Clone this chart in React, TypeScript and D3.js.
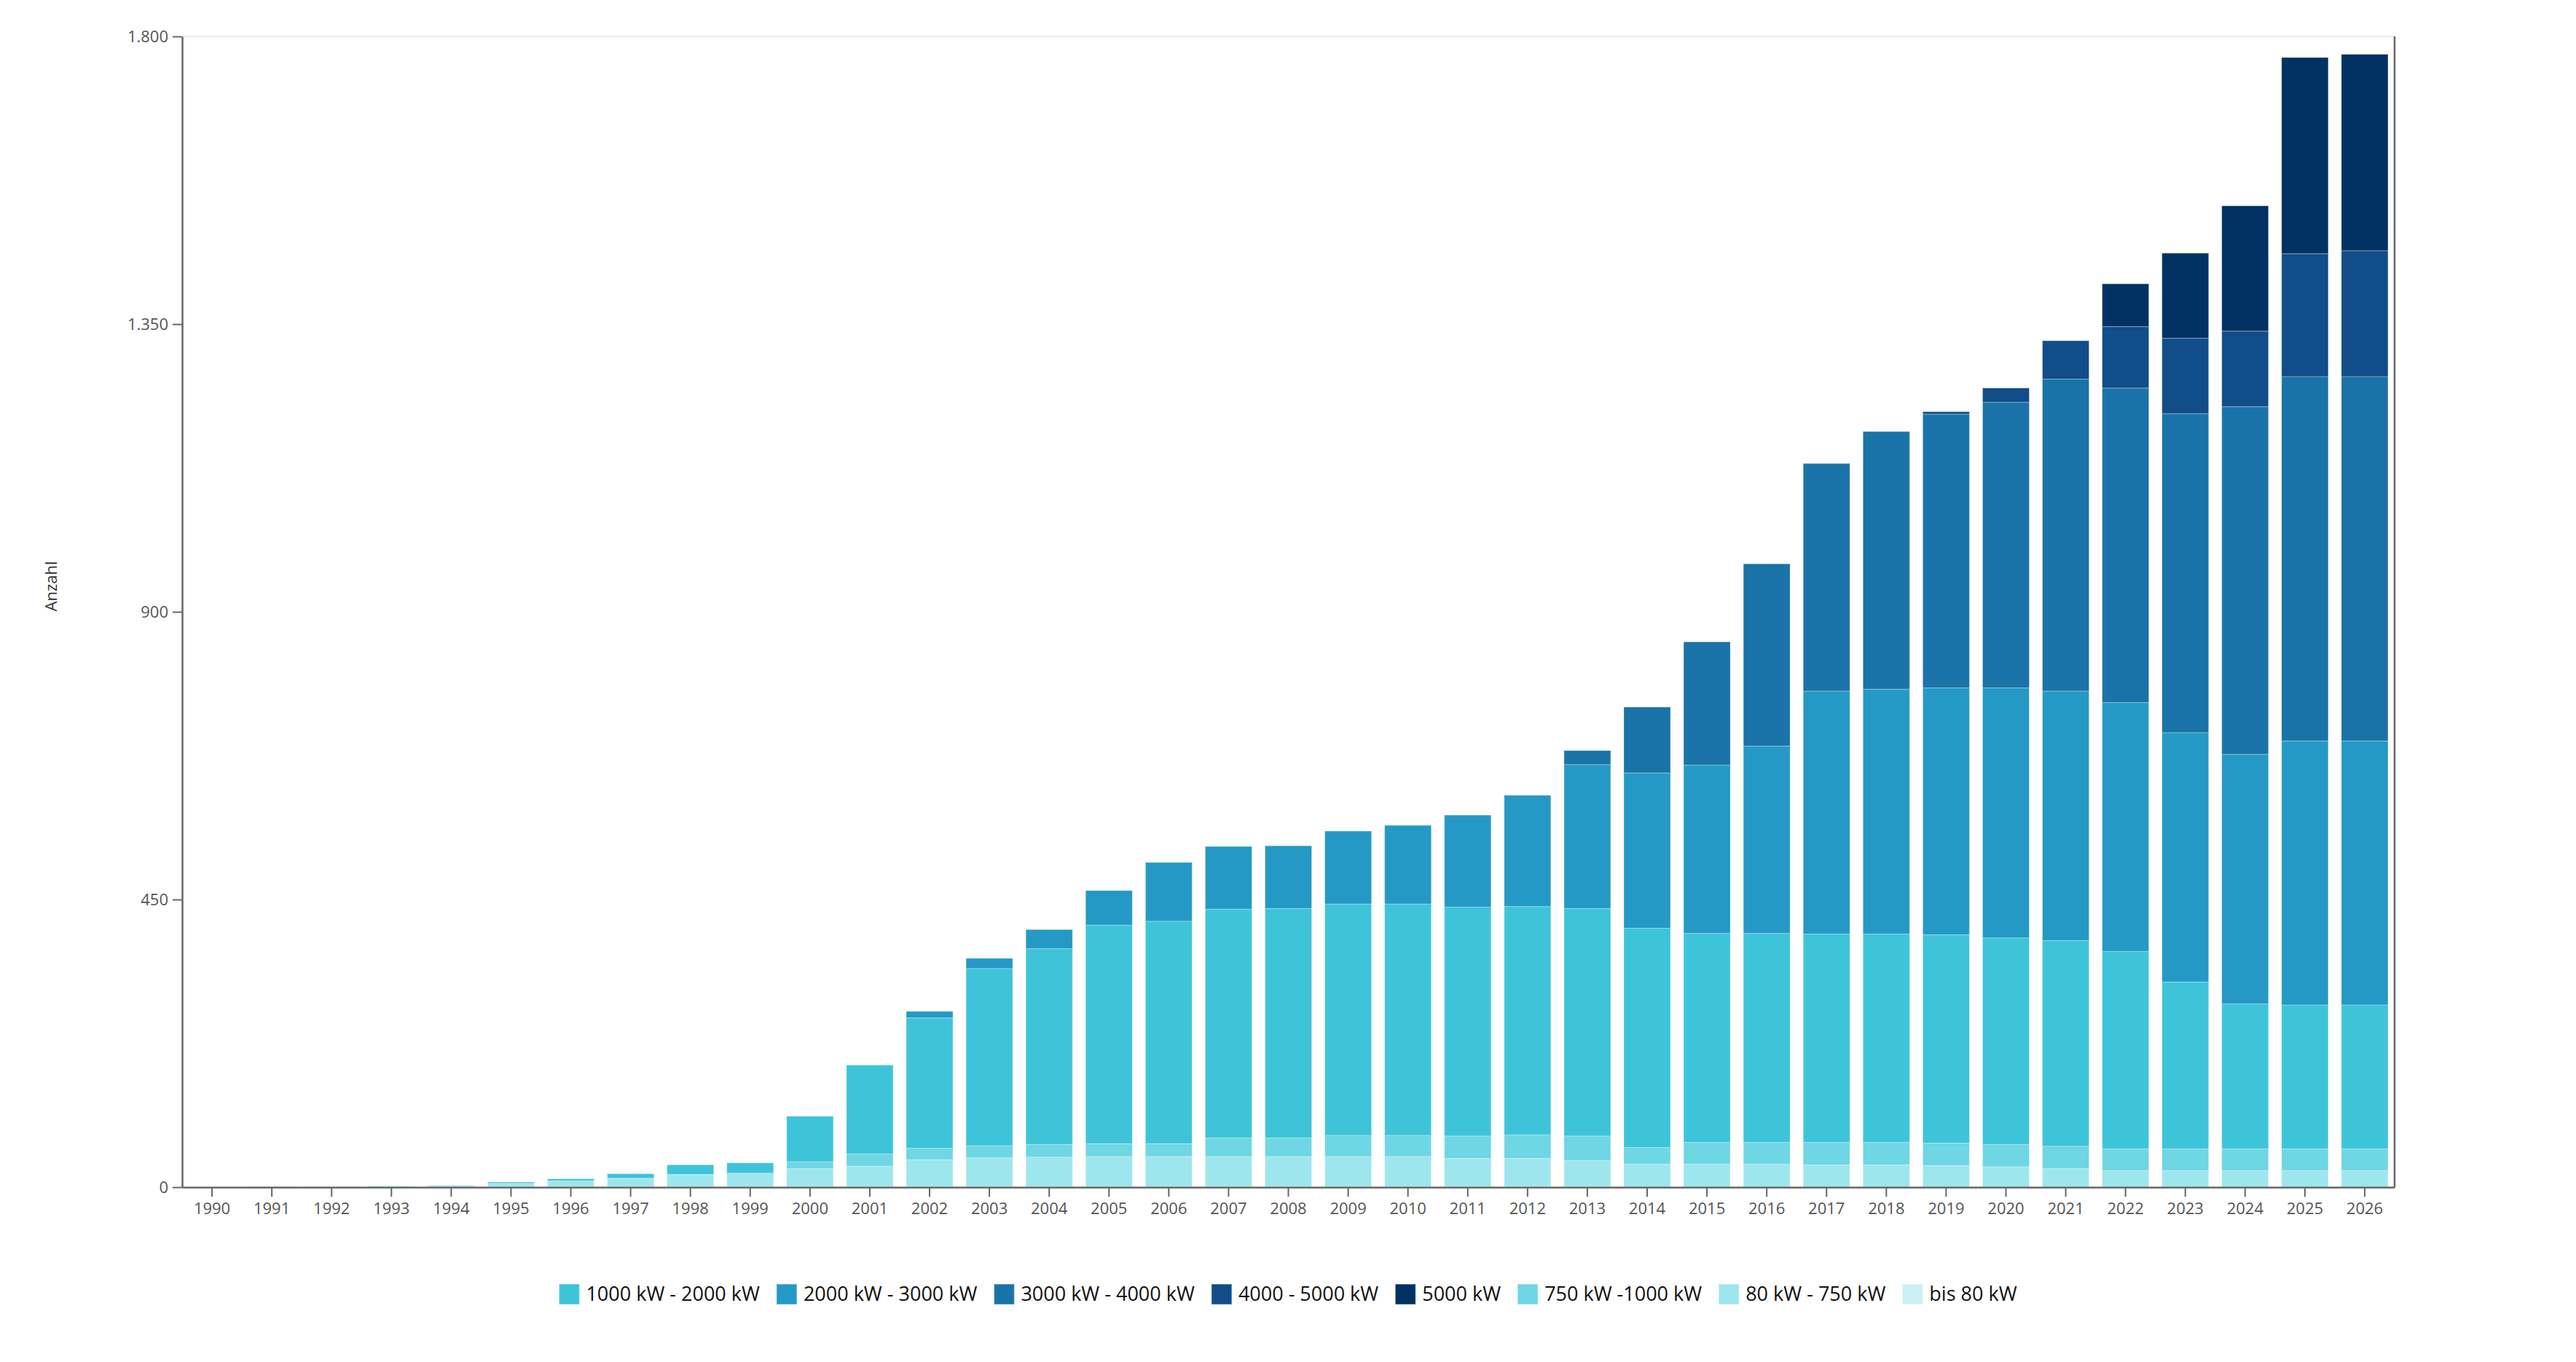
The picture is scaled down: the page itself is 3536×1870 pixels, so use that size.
import React, { useEffect, useRef } from 'react';
import * as d3 from 'd3';

const years = [
  '1990', '1991', '1992', '1993', '1994', '1995', '1996', '1997', '1998', '1999',
  '2000', '2001', '2002', '2003', '2004', '2005', '2006', '2007', '2008', '2009',
  '2010', '2011', '2012', '2013', '2014', '2015', '2016', '2017', '2018', '2019',
  '2020', '2021', '2022', '2023', '2024', '2025', '2026',
];

// Anzahl je Leistungsklasse, 1990 - 2026
const bis80 = [0, 1, 1, 1, 1, 1, 1, 1, 1, 1, 1, 1, 1, 1, 1, 1, 1, 1, 1, 1, 1, 1, 1, 1, 0, 0, 0, 0, 0, 0, 0, 0, 0, 0, 0, 0, 0];
const kw80to750 = [0, 0, 0, 1, 2, 5, 9, 13, 19, 21, 28, 32, 42, 45, 46, 47, 47, 47, 47, 47, 47, 44, 44, 41, 36, 36, 36, 35, 35, 34, 32, 29, 26, 26, 26, 26, 26];
const kw750to1000 = [0, 0, 0, 0, 0, 0, 0, 0, 0, 0, 11, 19, 18, 19, 20, 20, 20, 29, 29, 33, 33, 35, 37, 38, 26, 34, 34, 35, 35, 35, 35, 35, 34, 34, 34, 34, 34];
const kw1000to2000 = [0, 0, 0, 0, 0, 2, 3, 7, 15, 16, 71, 139, 204, 277, 306, 342, 348, 358, 359, 362, 362, 358, 357, 356, 343, 327, 327, 326, 326, 326, 323, 322, 309, 261, 227, 225, 225];
const kw2000to3000 = [0, 0, 0, 0, 0, 0, 0, 0, 0, 0, 0, 0, 10, 16, 30, 54, 92, 98, 98, 114, 123, 144, 174, 225, 243, 263, 293, 380, 383, 386, 391, 390, 389, 390, 390, 413, 413];
const kw3000to4000 = [0, 0, 0, 0, 0, 0, 0, 0, 0, 0, 0, 0, 0, 0, 0, 0, 0, 0, 0, 0, 0, 0, 0, 22, 103, 193, 285, 356, 403, 428, 447, 488, 492, 499, 544, 570, 570];
const kw4000to5000 = [0, 0, 0, 0, 0, 0, 0, 0, 0, 0, 0, 0, 0, 0, 0, 0, 0, 0, 0, 0, 0, 0, 0, 0, 0, 0, 0, 0, 0, 4, 22, 60, 96, 118, 118, 192, 197];
const kw5000 = [0, 0, 0, 0, 0, 0, 0, 0, 0, 0, 0, 0, 0, 0, 0, 0, 0, 0, 0, 0, 0, 0, 0, 0, 0, 0, 0, 0, 0, 0, 0, 0, 67, 133, 196, 307, 307];

const yTicks = [0, 450, 900, 1350, 1800];

// stacking order, bottom to top
const series = [
  { key: 'bis 80 kW', values: bis80, color: '#c9f1f6' },
  { key: '80 kW - 750 kW', values: kw80to750, color: '#9ee6ed' },
  { key: '750 kW -1000 kW', values: kw750to1000, color: '#6fd6e3' },
  { key: '1000 kW - 2000 kW', values: kw1000to2000, color: '#3ec4d9' },
  { key: '2000 kW - 3000 kW', values: kw2000to3000, color: '#2599c5' },
  { key: '3000 kW - 4000 kW', values: kw3000to4000, color: '#1a73a8' },
  { key: '4000 - 5000 kW', values: kw4000to5000, color: '#104d89' },
  { key: '5000 kW', values: kw5000, color: '#023164' },
];

const legendOrder = [
  '1000 kW - 2000 kW', '2000 kW - 3000 kW', '3000 kW - 4000 kW', '4000 - 5000 kW',
  '5000 kW', '750 kW -1000 kW', '80 kW - 750 kW', 'bis 80 kW',
];

const WIDTH = 3536;
const HEIGHT = 1870;
const FONT = '"Open Sans", "Noto Sans", sans-serif';

export default function App() {
  const svgRef = useRef<SVGSVGElement>(null);

  useEffect(() => {
    if (!svgRef.current) return;
    const svg = d3.select(svgRef.current);
    svg.selectAll('*').remove();

    const margin = { top: 50, right: 249, bottom: 240, left: 250 };
    const plotRight = WIDTH - margin.right;
    const plotBottom = HEIGHT - margin.bottom;

    const de = d3.formatLocale({ decimal: ',', thousands: '.', grouping: [3], currency: ['', ' €'] });
    const fmt = de.format(',');

    const x = d3.scaleBand<string>()
      .domain(years)
      .range([margin.left, plotRight])
      .paddingInner(0.22)
      .paddingOuter(0.11);

    const y = d3.scaleLinear()
      .domain([0, 1800])
      .range([plotBottom, margin.top]);

    const table = years.map((yr, i) => {
      const row: Record<string, number | string> = { year: yr };
      series.forEach(s => { row[s.key] = s.values[i]; });
      return row;
    });

    const stacked = d3.stack<Record<string, number | string>>()
      .keys(series.map(s => s.key))
      .value((d, k) => d[k] as number)(table);

    // top grid line
    svg.append('line')
      .attr('x1', margin.left)
      .attr('x2', plotRight)
      .attr('y1', y(1800))
      .attr('y2', y(1800))
      .attr('stroke', '#ececec')
      .attr('stroke-width', 2);

    // bars
    svg.append('g')
      .selectAll('g')
      .data(stacked)
      .join('g')
      .attr('fill', (_, i) => series[i].color)
      .selectAll('rect')
      .data(d => d)
      .join('rect')
      .attr('x', d => x(d.data.year as string) || 0)
      .attr('y', d => y(d[1]))
      .attr('width', x.bandwidth())
      .attr('height', d => Math.max(0, y(d[0]) - y(d[1])))
      .attr('stroke', 'rgba(255,255,255,0.3)')
      .attr('stroke-width', 1);

    // right border line
    svg.append('line')
      .attr('x1', plotRight)
      .attr('x2', plotRight)
      .attr('y1', margin.top)
      .attr('y2', plotBottom)
      .attr('stroke', '#666')
      .attr('stroke-width', 2.5);

    const yAxis = svg.append('g')
      .attr('transform', `translate(${margin.left},0)`)
      .call(d3.axisLeft(y).tickValues(yTicks).tickFormat(d => fmt(d as number)).tickSize(13).tickSizeOuter(0).tickPadding(6));

    const xAxis = svg.append('g')
      .attr('transform', `translate(0,${plotBottom})`)
      .call(d3.axisBottom(x).tickSize(13).tickSizeOuter(0).tickPadding(8));

    [yAxis, xAxis].forEach(ax => {
      ax.select('.domain').attr('stroke', '#666').attr('stroke-width', 2.5);
      ax.selectAll('.tick line').attr('stroke', '#666').attr('stroke-width', 2);
      ax.selectAll('.tick text')
        .attr('fill', '#555')
        .style('font-family', FONT)
        .style('font-size', '22px');
    });

    // axis title
    svg.append('text')
      .attr('transform', `translate(78,${(margin.top + plotBottom) / 2 - 35}) rotate(-90)`)
      .attr('text-anchor', 'middle')
      .attr('fill', '#333')
      .style('font-family', FONT)
      .style('font-size', '22px')
      .text('Anzahl');

    // legend
    const legend = svg.append('g');
    let cursor = 0;
    legendOrder.forEach(name => {
      const s = series.find(v => v.key === name)!;
      const item = legend.append('g').attr('transform', `translate(${cursor},0)`);
      item.append('rect')
        .attr('x', 0)
        .attr('y', -14)
        .attr('width', 28)
        .attr('height', 28)
        .attr('fill', s.color)
        .attr('stroke', 'rgba(255,255,255,0.35)')
        .attr('stroke-width', 1.5);
      const label = item.append('text')
        .attr('x', 37)
        .attr('dy', '0.35em')
        .attr('fill', '#111')
        .style('font-family', FONT)
        .style('font-size', '27px')
        .text(name);
      const w = (label.node() as SVGTextElement).getComputedTextLength();
      cursor += 37 + w + 23;
    });
    const total = cursor - 23;
    legend.attr('transform', `translate(${(WIDTH - total) / 2},1777)`);
  }, []);

  return (
    <svg
      ref={svgRef}
      width={WIDTH}
      height={HEIGHT}
      style={{ position: 'absolute', left: 0, top: 0, background: '#fff' }}
    />
  );
}
